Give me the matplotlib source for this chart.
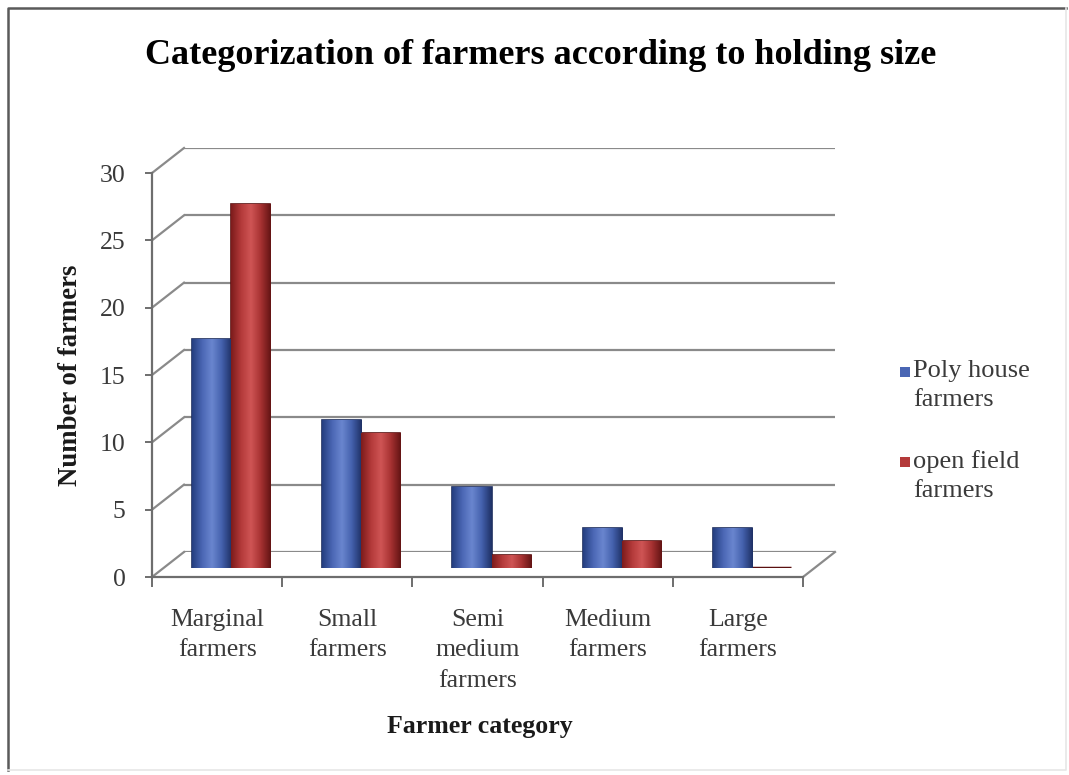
import numpy as np
import matplotlib
matplotlib.use("Agg")
import matplotlib.pyplot as plt
from matplotlib.colors import LinearSegmentedColormap
from matplotlib.lines import Line2D
from matplotlib.patches import Rectangle

categories = ["Marginal\nfarmers", "Small\nfarmers", "Semi\nmedium\nfarmers",
              "Medium\nfarmers", "Large\nfarmers"]
poly_house = [17, 11, 6, 3, 3]
open_field = [27, 10, 1, 2, 0]
series_names = ["Poly house\nfarmers", "open field\nfarmers"]
y_ticks = [0, 5, 10, 15, 20, 25, 30]

plt.rcParams['font.family'] = ['Liberation Serif', 'DejaVu Serif']

W, H = 1069, 775
fig = plt.figure(figsize=(W / 100, H / 100), dpi=100)
fig.patch.set_facecolor('white')


def px_rect(x0, y_bot, w, h):
    # image pixels (y measured from top) -> figure fraction
    return [x0 / W, 1 - y_bot / H, w / W, h / H]


# front plane of the 3d box, depth shift of back wall and bar plane
fx, fy, fw, fh = 152, 577, 651, 404
depth = (32, -25)
bar_shift = (14, -9)

ax_back = fig.add_axes(px_rect(fx + depth[0], fy + depth[1], fw, fh), zorder=0)
ax_bars = fig.add_axes(px_rect(fx + bar_shift[0], fy + bar_shift[1], fw, fh), zorder=1)
ax = fig.add_axes(px_rect(fx, fy, fw, fh), zorder=2)

x = np.arange(len(categories))
for a in (ax_back, ax_bars, ax):
    a.set_xlim(-0.5, len(categories) - 0.5)
    a.set_ylim(0, 30)
    a.patch.set_alpha(0)

grid_col = '#8a8a8a'
ax_back.axis('off')
ax_back.hlines(y_ticks, -0.5, len(categories) - 0.5, color=grid_col, lw=1.6)
ax_bars.axis('off')

# side wall / floor diagonals
to_fig = fig.transFigure.inverted()
def link(xv, yv):
    p0 = to_fig.transform(ax.transData.transform((xv, yv)))
    p1 = to_fig.transform(ax_back.transData.transform((xv, yv)))
    fig.add_artist(Line2D([p0[0], p1[0]], [p0[1], p1[1]], color=grid_col, lw=1.6,
                          transform=fig.transFigure, zorder=0))

for yv in y_ticks:
    link(-0.5, yv)
link(len(categories) - 0.5, 0)

# bars with a cylinder-like shading
blue_cmap = LinearSegmentedColormap.from_list('b', ['#253f80', '#4a66b4', '#6a86cf', '#4461ad', '#1f3166'])
red_cmap = LinearSegmentedColormap.from_list('r', ['#7d1c1c', '#b43a3a', '#cf5555', '#a73232', '#641414'])
grad = np.linspace(0, 1, 64).reshape(1, -1)

bw = 0.3
b1 = ax_bars.bar(x - bw / 2, poly_house, bw, color='#4a66b4', edgecolor='#1d2d5e', lw=1.2)
b2 = ax_bars.bar(x + bw / 2, open_field, bw, color='#b43a3a', edgecolor='#5a1010', lw=2.5)
for bars, cmap in ((b1, blue_cmap), (b2, red_cmap)):
    for p in bars:
        if p.get_height() <= 0:
            continue
        p.set_linewidth(1.2)
        im = ax_bars.imshow(grad, cmap=cmap, aspect='auto',
                            extent=[p.get_x(), p.get_x() + p.get_width(), 0, p.get_height()],
                            zorder=p.get_zorder() + 0.1)
        im.set_clip_path(p)
ax_bars.set_xlim(-0.5, len(categories) - 0.5)
ax_bars.set_ylim(0, 30)

# front axes
axis_col = '#6e6e6e'
text_col = '#3a3a3a'
for s in ('top', 'right'):
    ax.spines[s].set_visible(False)
for s in ('left', 'bottom'):
    ax.spines[s].set_color(axis_col)
    ax.spines[s].set_linewidth(1.6)
ax.set_yticks(y_ticks)
ax.tick_params(axis='y', length=5, width=1.4, color=axis_col, labelsize=18.5,
               labelcolor=text_col, pad=14)
ax.set_xticks(x)
ax.set_xticklabels(categories)
ax.tick_params(axis='x', which='major', length=0, labelsize=18.5, labelcolor=text_col, pad=23)
ax.set_xticks(np.arange(-0.5, len(categories)), minor=True)
ax.tick_params(axis='x', which='minor', length=7, width=1.4, color=axis_col)
for lab in ax.get_xticklabels():
    lab.set_verticalalignment('top')
    lab.set_linespacing(1.5)

ax.set_ylabel('Number of farmers', fontsize=19.3, fontweight='bold', color='#1a1a1a', labelpad=12)
fig.text(480 / W, 1 - 727 / H, 'Farmer category', fontsize=18.6, fontweight='bold',
         color='#1a1a1a', ha='center', va='center')
fig.text(541 / W, 1 - 55 / H, 'Categorization of farmers according to holding size',
         fontsize=26, fontweight='bold', color='black', ha='center', va='center')

# legend
for i, (name, col) in enumerate(zip(series_names, ['#4a66b4', '#b43a3a'])):
    ytop = 360 + i * 90
    fig.add_artist(Rectangle((900 / W, 1 - (ytop + 17) / H), 10 / W, 10 / H,
                             transform=fig.transFigure, facecolor=col, edgecolor='none'))
    fig.text(913 / W, 1 - ytop / H, name, fontsize=19, color=text_col,
             ha='left', va='top', linespacing=1.42)

# outer border: dark top and left, faint right and bottom
fig.add_artist(Line2D([8 / W, 8 / W, 1066 / W], [1 - 770 / H, 1 - 8 / H, 1 - 8 / H],
                      transform=fig.transFigure, color='#5a5a5a', lw=1.8))
fig.add_artist(Line2D([8 / W, 1066 / W, 1066 / W], [1 - 770 / H, 1 - 770 / H, 1 - 8 / H],
                      transform=fig.transFigure, color='#e6e6e6', lw=1.2))

fig.savefig('out.png', dpi=100)
